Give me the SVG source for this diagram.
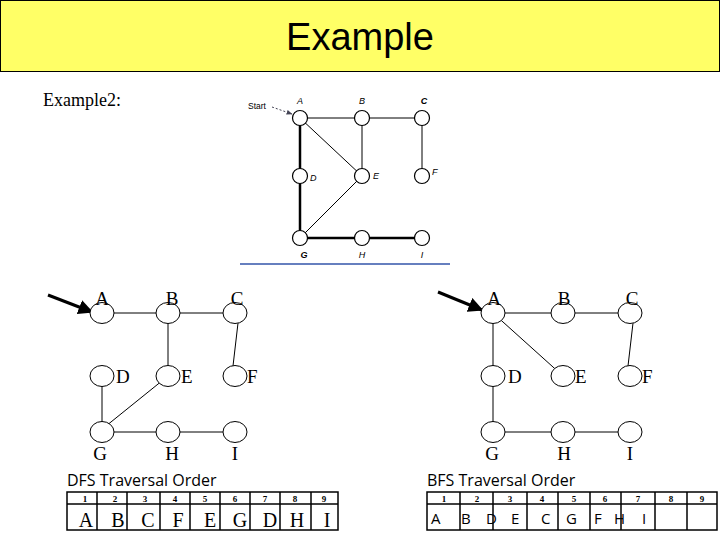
<svg xmlns="http://www.w3.org/2000/svg" width="720" height="540" viewBox="0 0 720 540">
<style>
.t{font-family:"Liberation Serif",serif;fill:#000}
.s{font-family:"Liberation Sans",sans-serif;fill:#000}
.o{font-family:"Open Sans",sans-serif;fill:#000}
.n{fill:#fff;stroke:#000;stroke-width:1}
.e{stroke:#000;stroke-width:1;fill:none}
.sm{fill:#fff;stroke:#000;stroke-width:1.2}
.tb{fill:#fff;stroke:#000;stroke-width:1.5}
</style>
<defs>
<marker id="ah" viewBox="0 0 10 10" refX="9" refY="5" markerWidth="5" markerHeight="5" orient="auto"><path d="M0,0L10,5L0,10z" fill="#000"/></marker>
<marker id="ah2" viewBox="0 0 10 10" refX="9" refY="5" markerWidth="6" markerHeight="6" orient="auto"><path d="M0,1L10,5L0,9z" fill="#445"/></marker>
</defs>
<rect x="0" y="0" width="720" height="540" fill="#fff"/>
<rect x="0.5" y="0.5" width="719" height="71" fill="#ffff66" stroke="#000"/>
<text x="360" y="50" text-anchor="middle" class="s" font-size="38">Example</text>
<text x="43" y="106" class="t" font-size="18">Example2:</text>

<g id="top-graph">
<g class="e">
<line x1="300" y1="118" x2="422" y2="118"/>
<line x1="300" y1="118" x2="362" y2="176"/>
<line x1="362" y1="118" x2="362" y2="176"/>
<line x1="422" y1="118" x2="422" y2="176"/>
<line x1="300" y1="238" x2="362" y2="176"/>
<line x1="300" y1="118" x2="300" y2="238" stroke-width="2.5"/>
<line x1="300" y1="238" x2="422" y2="238" stroke-width="2.5"/>
</g>
<g class="sm">
<circle cx="300" cy="118" r="7.5"/><circle cx="362" cy="118" r="7.5"/><circle cx="422" cy="118" r="7.5"/>
<circle cx="300" cy="176" r="7.5"/><circle cx="362" cy="176" r="7.5"/><circle cx="422" cy="176" r="7.5"/>
<circle cx="300" cy="238" r="7.5"/><circle cx="362" cy="238" r="7.5"/><circle cx="422" cy="238" r="7.5"/>
</g>
<g class="s" font-size="9" font-style="italic">
<text x="300" y="104" text-anchor="middle">A</text><text x="362" y="104" text-anchor="middle">B</text><text x="424" y="104" text-anchor="middle" font-weight="bold">C</text>
<text x="310" y="181">D</text><text x="373" y="179">E</text><text x="432" y="175">F</text>
<text x="304" y="258" text-anchor="middle" font-weight="bold">G</text><text x="362" y="258" text-anchor="middle">H</text><text x="422" y="258" text-anchor="middle">I</text>
</g>
<text x="248" y="109" class="s" font-size="8.5" fill="#445">Start</text>
<line x1="272" y1="107" x2="292" y2="114" stroke="#445" stroke-dasharray="2,2" marker-end="url(#ah2)"/>
<line x1="240" y1="264" x2="450" y2="264" stroke="#3355aa" stroke-width="1.5"/>
</g>

<g id="connectors" class="e">
<line x1="102" y1="313" x2="235" y2="313"/>
<line x1="168" y1="313" x2="168" y2="376"/>
<line x1="238" y1="323" x2="233" y2="366"/>
<line x1="102" y1="376" x2="102" y2="432"/>
<line x1="106" y1="426" x2="168" y2="376"/>
<line x1="102" y1="432" x2="235" y2="432"/>
<line x1="493" y1="313" x2="630" y2="313"/>
<line x1="493" y1="313" x2="563" y2="376"/>
<line x1="493" y1="313" x2="493" y2="376"/>
<line x1="633" y1="323" x2="628" y2="366"/>
<line x1="493" y1="376" x2="493" y2="432"/>
<line x1="493" y1="432" x2="630" y2="432"/>
<line x1="48" y1="295" x2="92" y2="312" stroke-width="3" marker-end="url(#ah)"/>
<line x1="438" y1="292" x2="482" y2="310" stroke-width="3" marker-end="url(#ah)"/>
</g>

<g class="t" font-size="19">
<g id="dA"><ellipse class="n" cx="102" cy="313" rx="12" ry="10.5"/><text x="102" y="305" text-anchor="middle">A</text></g>
<g id="dB"><ellipse class="n" cx="168" cy="313" rx="12" ry="10.5"/><text x="172" y="305" text-anchor="middle">B</text></g>
<g id="dC"><ellipse class="n" cx="235" cy="313" rx="12" ry="10.5"/><text x="237" y="305" text-anchor="middle">C</text></g>
<g id="dD"><ellipse class="n" cx="102" cy="376" rx="12" ry="10.5"/><text x="116" y="383">D</text></g>
<g id="dE"><ellipse class="n" cx="168" cy="376" rx="12" ry="10.5"/><text x="181" y="383">E</text></g>
<g id="dF"><ellipse class="n" cx="235" cy="376" rx="12" ry="10.5"/><text x="247" y="383">F</text></g>
<g id="dG"><ellipse class="n" cx="102" cy="432" rx="12" ry="10.5"/><text x="100" y="460" text-anchor="middle">G</text></g>
<g id="dH"><ellipse class="n" cx="168" cy="432" rx="12" ry="10.5"/><text x="172" y="460" text-anchor="middle">H</text></g>
<g id="dI"><ellipse class="n" cx="235" cy="432" rx="12" ry="10.5"/><text x="235" y="460" text-anchor="middle">I</text></g>
</g>

<g class="t" font-size="19">
<g id="bA"><ellipse class="n" cx="493" cy="313" rx="12" ry="10.5"/><text x="494" y="305" text-anchor="middle">A</text></g>
<g id="bB"><ellipse class="n" cx="563" cy="313" rx="12" ry="10.5"/><text x="564" y="305" text-anchor="middle">B</text></g>
<g id="bC"><ellipse class="n" cx="630" cy="313" rx="12" ry="10.5"/><text x="632" y="305" text-anchor="middle">C</text></g>
<g id="bD"><ellipse class="n" cx="493" cy="376" rx="12" ry="10.5"/><text x="508" y="383">D</text></g>
<g id="bE"><ellipse class="n" cx="563" cy="376" rx="12" ry="10.5"/><text x="575" y="383">E</text></g>
<g id="bF"><ellipse class="n" cx="630" cy="376" rx="12" ry="10.5"/><text x="642" y="383">F</text></g>
<g id="bG"><ellipse class="n" cx="493" cy="432" rx="12" ry="10.5"/><text x="492" y="460" text-anchor="middle">G</text></g>
<g id="bH"><ellipse class="n" cx="563" cy="432" rx="12" ry="10.5"/><text x="564" y="460" text-anchor="middle">H</text></g>
<g id="bI"><ellipse class="n" cx="630" cy="432" rx="12" ry="10.5"/><text x="630" y="460" text-anchor="middle">I</text></g>
</g>

<g id="dfs-table">
<text x="67" y="486" class="o" font-size="16">DFS Traversal Order</text>
<rect class="tb" x="67" y="492" width="271" height="38"/>
<line x1="67" y1="504" x2="338" y2="504" stroke="#000" stroke-width="1.5"/>
<g stroke="#000" stroke-width="1.5">
<line x1="97" y1="492" x2="97" y2="530"/><line x1="127" y1="492" x2="127" y2="530"/><line x1="160" y1="492" x2="160" y2="530"/><line x1="190" y1="492" x2="190" y2="530"/><line x1="220" y1="492" x2="220" y2="530"/><line x1="250" y1="492" x2="250" y2="530"/><line x1="280" y1="492" x2="280" y2="530"/><line x1="311" y1="492" x2="311" y2="530"/>
</g>
<g class="t" font-size="9" font-weight="bold" text-anchor="middle">
<text x="85" y="502">1</text><text x="115" y="502">2</text><text x="145" y="502">3</text><text x="175" y="502">4</text><text x="205" y="502">5</text><text x="235" y="502">6</text><text x="265" y="502">7</text><text x="295" y="502">8</text><text x="324" y="502">9</text>
</g>
<g class="t" font-size="20" text-anchor="middle">
<text x="86" y="527">A</text><text x="118" y="527">B</text><text x="148" y="527">C</text><text x="178" y="527">F</text><text x="210" y="527">E</text><text x="240" y="527">G</text><text x="270" y="527">D</text><text x="297" y="527">H</text><text x="327" y="527">I</text>
</g>
</g>

<g id="bfs-table">
<text x="427" y="486" class="o" font-size="16">BFS Traversal Order</text>
<rect class="tb" x="427" y="492" width="290" height="38"/>
<line x1="427" y1="504" x2="717" y2="504" stroke="#000" stroke-width="1.5"/>
<g stroke="#000" stroke-width="1.5">
<line x1="460" y1="492" x2="460" y2="530"/><line x1="493" y1="492" x2="493" y2="530"/><line x1="527" y1="492" x2="527" y2="530"/><line x1="558" y1="492" x2="558" y2="530"/><line x1="590" y1="492" x2="590" y2="530"/><line x1="621" y1="492" x2="621" y2="530"/><line x1="655" y1="492" x2="655" y2="530"/><line x1="687" y1="492" x2="687" y2="530"/>
</g>
<g class="t" font-size="9" font-weight="bold" text-anchor="middle">
<text x="444" y="502">1</text><text x="477" y="502">2</text><text x="510" y="502">3</text><text x="542" y="502">4</text><text x="574" y="502">5</text><text x="605" y="502">6</text><text x="638" y="502">7</text><text x="671" y="502">8</text><text x="702" y="502">9</text>
</g>
<g class="o" font-size="15">
<text x="431" y="524">A</text><text x="461" y="524">B</text><text x="486" y="524">D</text><text x="511" y="524">E</text><text x="541" y="524">C</text><text x="566" y="524">G</text><text x="594" y="524">F</text><text x="614" y="524">H</text><text x="642" y="524">I</text>
</g>
</g>
</svg>
